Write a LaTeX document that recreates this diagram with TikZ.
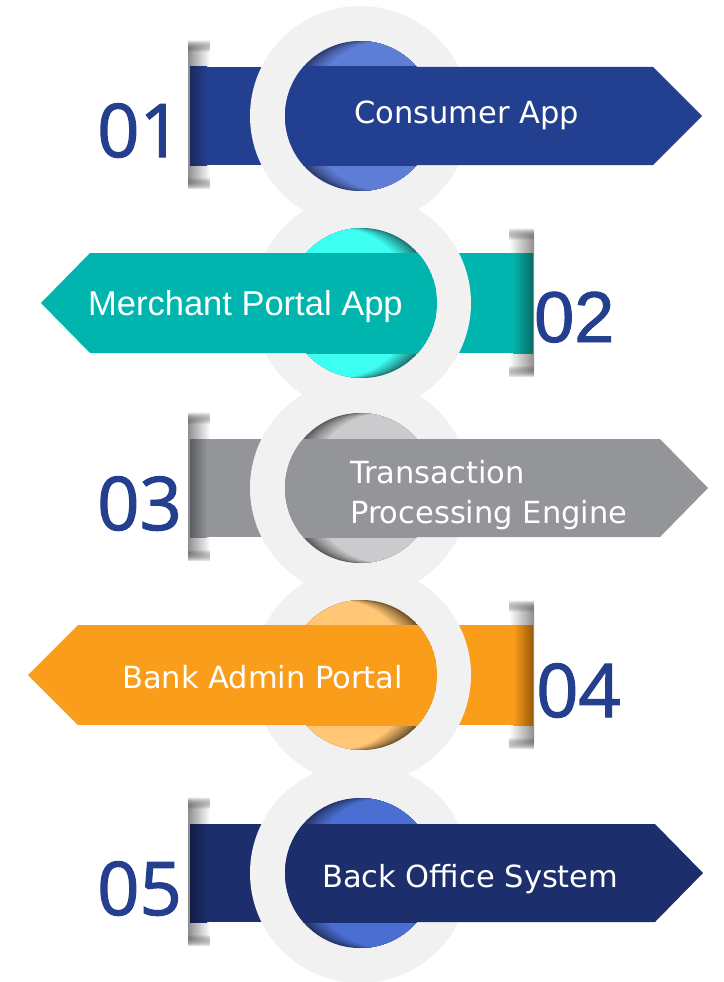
\documentclass[tikz,border=0pt]{standalone}
\usepackage{fontspec}
\usetikzlibrary{fadings}
\newfontfamily\lblfont{DejaVu Sans}
\newfontfamily\merchfont{Liberation Sans}
\newfontfamily\numfont[FakeBold=1.6]{Open Sans}
\newfontfamily\numfontb[FakeBold=1.2]{Liberation Sans}
\definecolor{ringgray}{HTML}{F1F1F1}
\definecolor{numblue}{HTML}{253F8F}
\definecolor{shadowgray}{HTML}{8E8E8E}
\definecolor{bandA}{HTML}{233F8F}\definecolor{liteA}{HTML}{5E7ED6}\definecolor{darkA}{HTML}{2F3F74}\definecolor{edgeA}{HTML}{1B2A5E}
\definecolor{bandB}{HTML}{00B5AD}\definecolor{liteB}{HTML}{3CFFF2}\definecolor{darkB}{HTML}{1F7B78}\definecolor{edgeB}{HTML}{0B6B67}
\definecolor{bandC}{HTML}{939598}\definecolor{liteC}{HTML}{CBCBCD}\definecolor{darkC}{HTML}{5F5F61}\definecolor{edgeC}{HTML}{5C5D60}
\definecolor{bandD}{HTML}{FA9D1A}\definecolor{liteD}{HTML}{FFC676}\definecolor{darkD}{HTML}{7A5A2C}\definecolor{edgeD}{HTML}{9B5A0A}
\definecolor{bandE}{HTML}{1C2E6B}\definecolor{liteE}{HTML}{4A6ED2}\definecolor{darkE}{HTML}{24356A}\definecolor{edgeE}{HTML}{111C45}
\pgfdeclareverticalshading{vbarshade}{100bp}{color(0bp)=(transparent!100); color(25bp)=(transparent!100); color(29bp)=(transparent!0); color(71bp)=(transparent!0); color(75bp)=(transparent!100); color(100bp)=(transparent!100)}
\pgfdeclarefading{vbarfade}{\pgfuseshading{vbarshade}}
\tikzset{
  lbl/.style={text=white, inner sep=0pt, anchor=base west, font=\lblfont\fontsize{30.5}{36}\selectfont},
  numlbl/.style={text=numblue, inner sep=0pt, anchor=base west, font=\numfont\fontsize{74}{80}\selectfont},
  shadowbar/.style={path fading=vbarfade},
}
% #1 cy, #2 rect end, #3 tip x, #4 band, #5 light, #6 dark, #7 edge
\newcommand\RowRight[7]{%
  \fill[shadowbar, left color=shadowgray, middle color=shadowgray!70!white, right color=white] (188,#1-76) rectangle (210,#1+73);
  \fill[#4] (190,#1-49) rectangle (360,#1+49);
  \fill[left color=#7, right color=#4] (190,#1-49) rectangle (207,#1+49);
  \fill[ringgray] (360,#1) circle[radius=110pt];
  \begin{scope}
    \clip (360,#1) circle[radius=75pt];
    \fill[#6] (360,#1) circle[radius=75pt];
    \foreach \s/\p in {4/80,8/62,12/45,16/30,20/15,24/0}{\fill[#6!\p!#5] (360+\s,#1) circle[radius=75pt];}
  \end{scope}
  \begin{scope}
    \clip (0,#1-49) rectangle (723,#1+49);
    \fill[#4] (360,#1) circle[radius=75pt];
    \fill[#4] (360,#1-49) -- (#2,#1-49) -- (#3,#1) -- (#2,#1+49) -- (360,#1+49) -- cycle;
  \end{scope}
}
% #1 cy, #2 rect start, #3 tip x, #4 band, #5 light, #6 dark, #7 edge
\newcommand\RowLeft[7]{%
  \fill[shadowbar, left color=white, middle color=shadowgray!70!white, right color=shadowgray] (509,#1-75) rectangle (534,#1+74);
  \fill[#4] (362,#1-50) rectangle (533,#1+50);
  \fill[left color=#4, right color=#7] (513,#1-50) rectangle (533,#1+50);
  \fill[ringgray] (362,#1) circle[radius=109pt];
  \begin{scope}
    \clip (362,#1) circle[radius=75pt];
    \fill[#6] (362,#1) circle[radius=75pt];
    \foreach \s/\p in {4/80,8/62,12/45,16/30,20/15,24/0}{\fill[#6!\p!#5] (362-\s,#1) circle[radius=75pt];}
  \end{scope}
  \begin{scope}
    \clip (0,#1-50) rectangle (723,#1+50);
    \fill[#4] (362,#1) circle[radius=75pt];
    \fill[#4] (362,#1-50) -- (#2,#1-50) -- (#3,#1) -- (#2,#1+50) -- (362,#1+50) -- cycle;
  \end{scope}
}
\begin{document}
\begin{tikzpicture}[x=1pt,y=-1pt]
\useasboundingbox[fill=white] (0,0) rectangle (723,982);
\RowRight{116}{653}{702}{bandA}{liteA}{darkA}{edgeA}
\RowLeft{303}{90}{41}{bandB}{liteB}{darkB}{edgeB}
\RowRight{488}{660}{708}{bandC}{liteC}{darkC}{edgeC}
\RowLeft{675}{78}{28}{bandD}{liteD}{darkD}{edgeD}
\RowRight{873}{655}{703}{bandE}{liteE}{darkE}{edgeE}
% labels
\node[lbl] (t1) at (354,123) {Consumer App};
\node[lbl, font=\merchfont\fontsize{34.5}{40}\selectfont] (t2) at (88,315) {Merchant Portal App};
\node[lbl] (t3a) at (350,483) {Transaction};
\node[lbl] (t3b) at (350,523) {Processing Engine};
\node[lbl] (t4) at (122,688) {Bank Admin Portal};
\node[lbl] (t5) at (322,887) {Back Office System};
% numbers
\node[numlbl] (n1) at (97,157) {01};
\node[numlbl, font=\numfontb\fontsize{72}{80}\selectfont] (n2) at (534,342) {02};
\node[numlbl] (n3) at (97,530) {03};
\node[numlbl] (n4) at (536,717) {04};
\node[numlbl] (n5) at (97,915) {05};
\end{tikzpicture}
\end{document}
